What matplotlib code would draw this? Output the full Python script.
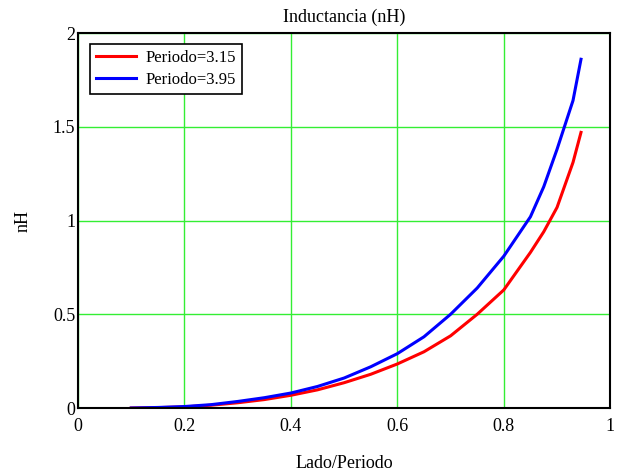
import numpy as np
import matplotlib.pyplot as plt

# datos
lado_rojo = [0.10, 0.15, 0.20, 0.25, 0.30, 0.35, 0.40, 0.45, 0.50, 0.55, 0.60,
             0.65, 0.70, 0.75, 0.80, 0.85, 0.875, 0.90, 0.93, 0.945]
ind_rojo = [0.0, 0.002, 0.006, 0.015, 0.028, 0.045, 0.068, 0.097, 0.135, 0.18, 0.235,
            0.30, 0.385, 0.50, 0.63, 0.83, 0.94, 1.07, 1.31, 1.47]

lado_azul = [0.10, 0.15, 0.20, 0.25, 0.30, 0.35, 0.40, 0.45, 0.50, 0.55, 0.60,
             0.65, 0.70, 0.75, 0.80, 0.85, 0.875, 0.90, 0.93, 0.945]
ind_azul = [0.0, 0.003, 0.008, 0.018, 0.035, 0.055, 0.08, 0.115, 0.16, 0.22, 0.29,
            0.38, 0.50, 0.64, 0.81, 1.02, 1.18, 1.38, 1.64, 1.86]

etiquetas = ["Periodo=3.15", "Periodo=3.95"]

plt.rcParams['font.family'] = ['Liberation Serif', 'DejaVu Serif']

fig = plt.figure(figsize=(6.24, 4.75), dpi=100)
ax = fig.add_axes([0.125, 0.141, 0.853, 0.7895])

ax.plot(lado_rojo, ind_rojo, color='#ff0000', lw=2.2, label=etiquetas[0])
ax.plot(lado_azul, ind_azul, color='#0000ff', lw=2.2, label=etiquetas[1])

ax.set_xlim(0, 1)
ax.set_ylim(0, 2)
ax.set_xticks([0, 0.2, 0.4, 0.6, 0.8, 1])
ax.set_xticklabels(['0', '0.2', '0.4', '0.6', '0.8', '1'])
ax.set_yticks([0, 0.5, 1, 1.5, 2])
ax.set_yticklabels(['0', '0.5', '1', '1.5', '2'])
ax.tick_params(axis='x', length=0, labelsize=13, pad=7)
ax.tick_params(axis='y', length=0, labelsize=13, pad=2)
ax.grid(True, color='#33ee33', lw=1.0)

for s in ax.spines.values():
    s.set_linewidth(1.5)
    s.set_color('black')

ax.set_title("Inductancia (nH)", fontsize=13, pad=8)
ax.set_xlabel("Lado/Periodo", fontsize=13)
ax.set_ylabel("nH", fontsize=13)
ax.xaxis.set_label_coords(0.5, -0.125)
ax.yaxis.set_label_coords(-0.088, 0.5)

leg = ax.legend(loc='upper left', bbox_to_anchor=(0.0226, 0.971), fontsize=12,
                fancybox=False, framealpha=1, edgecolor='black',
                borderpad=0.35, handlelength=2.4, handletextpad=0.6,
                labelspacing=0.38, borderaxespad=0)
leg.get_frame().set_linewidth(1.2)

fig.savefig("out.png", dpi=100)
